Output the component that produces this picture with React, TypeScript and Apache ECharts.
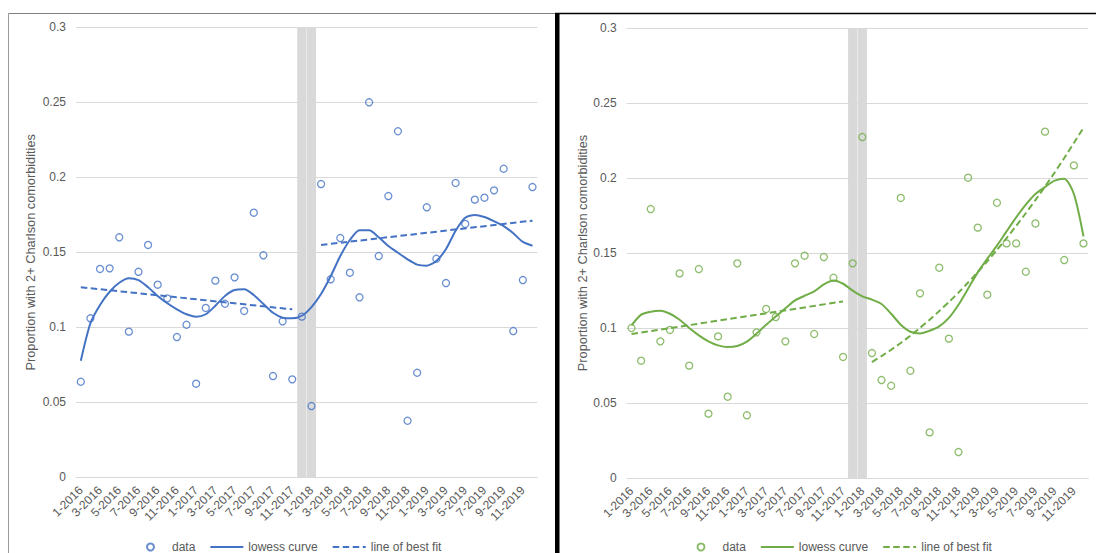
import React, { useEffect, useRef } from "react";
import * as echarts from "echarts";

const months = [
  "1-2016", "2-2016", "3-2016", "4-2016", "5-2016", "6-2016", "7-2016", "8-2016", "9-2016", "10-2016", "11-2016", "12-2016",
  "1-2017", "2-2017", "3-2017", "4-2017", "5-2017", "6-2017", "7-2017", "8-2017", "9-2017", "10-2017", "11-2017", "12-2017",
  "1-2018", "2-2018", "3-2018", "4-2018", "5-2018", "6-2018", "7-2018", "8-2018", "9-2018", "10-2018", "11-2018", "12-2018",
  "1-2019", "2-2019", "3-2019", "4-2019", "5-2019", "6-2019", "7-2019", "8-2019", "9-2019", "10-2019", "11-2019", "12-2019",
];

const yTicks = [0, 0.05, 0.1, 0.15, 0.2, 0.25, 0.3];

// Left chart (blue)
const leftData = [
  0.0637, 0.106, 0.1389, 0.1393, 0.16, 0.0971, 0.137, 0.1549, 0.1284, 0.1193, 0.0935, 0.1017,
  0.0624, 0.1129, 0.1311, 0.1157, 0.1333, 0.1109, 0.1764, 0.148, 0.0675, 0.104, 0.0653, 0.1071,
  0.0475, 0.1955, 0.132, 0.1595, 0.1364, 0.12, 0.25, 0.1475, 0.1875, 0.2307, 0.0377, 0.0697,
  0.18, 0.1457, 0.1295, 0.1962, 0.1689, 0.1851, 0.1864, 0.1913, 0.2057, 0.0975, 0.1315, 0.1935,
];
const leftLowess = [
  0.0777, 0.1027, 0.1149, 0.1237, 0.1297, 0.1327, 0.1315, 0.1267, 0.1209, 0.116, 0.112, 0.1087,
  0.1071, 0.1087, 0.1144, 0.1209, 0.1249, 0.1253, 0.1215, 0.1155, 0.1097, 0.1064, 0.106, 0.1077,
  0.1135, 0.1222, 0.134, 0.1475, 0.1582, 0.1647, 0.1647, 0.16, 0.1542, 0.1497, 0.1453, 0.1418,
  0.1411, 0.1442, 0.1522, 0.1644, 0.1731, 0.1749, 0.1735, 0.1707, 0.1675, 0.1627, 0.1569, 0.1544,
];
const leftFitPreMonths = ["1-2016", "11-2017"];
const leftFitPre = [0.1267, 0.112];
const leftFitPostMonths = ["2-2018", "12-2019"];
const leftFitPost = [0.1549, 0.1711];

// Right chart (green)
const rightData = [
  0.1, 0.0782, 0.1793, 0.0911, 0.0987, 0.1364, 0.0749, 0.1393, 0.0429, 0.0944, 0.0542, 0.1431,
  0.0418, 0.0971, 0.1127, 0.1073, 0.0911, 0.1431, 0.1482, 0.096, 0.1473, 0.1335, 0.0807, 0.1431,
  0.2273, 0.0833, 0.0653, 0.0615, 0.1867, 0.0715, 0.1231, 0.0304, 0.1402, 0.0929, 0.0173, 0.2002,
  0.1669, 0.1222, 0.1835, 0.1564, 0.1564, 0.1375, 0.1697, 0.2309, null, 0.1453, 0.2084, 0.1564,
];
const rightLowess = [
  0.1017, 0.1089, 0.1109, 0.1115, 0.1095, 0.1055, 0.1, 0.0951, 0.0911, 0.0884, 0.0873, 0.088,
  0.0909, 0.0962, 0.1022, 0.1077, 0.1131, 0.1184, 0.1215, 0.1244, 0.1291, 0.1317, 0.1295, 0.1249,
  0.1211, 0.1189, 0.116, 0.1095, 0.1022, 0.0975, 0.0964, 0.0982, 0.1011, 0.1067, 0.1155, 0.1262,
  0.1371, 0.1462, 0.1549, 0.1644, 0.1737, 0.1822, 0.1893, 0.194, 0.1982, 0.1995, 0.1893, 0.1611,
];
const rightFitPreMonths = ["1-2016", "11-2017"];
const rightFitPre = [0.096, 0.1177];
const rightFitPostMonths = [
  "2-2018", "3-2018", "4-2018", "5-2018", "6-2018", "7-2018", "8-2018", "9-2018", "10-2018", "11-2018", "12-2018",
  "1-2019", "2-2019", "3-2019", "4-2019", "5-2019", "6-2019", "7-2019", "8-2019", "9-2019", "10-2019", "11-2019", "12-2019",
];
const rightFitPost = [
  0.0773, 0.0813, 0.0855, 0.09, 0.0949, 0.1001, 0.1055, 0.1113, 0.1173, 0.1236, 0.1303,
  0.1373, 0.1445, 0.1521, 0.1599, 0.1681, 0.1765, 0.1853, 0.1943, 0.2037, 0.2133, 0.2233, 0.2335,
];

const bandMonths = ["12-2017", "1-2018"];
const bandValue = 0.3;

const FONT = "'Liberation Sans', Arial, Helvetica, sans-serif";
const TEXT = "#595959";
const GRID = "#d9d9d9";

function pairs(ms: string[], vs: (number | null)[]) {
  return ms.map((m, i) => [m, vs[i]]);
}

const hiddenSymbol = { color: "rgba(0,0,0,0)", borderColor: "rgba(0,0,0,0)", borderWidth: 0, opacity: 0 };

function buildOption(cfg: any) {
  const color = cfg.color;
  return {
    animation: false,
    textStyle: { fontFamily: FONT },
    graphic: cfg.graphic,
    grid: { left: cfg.gridLeft, top: cfg.gridTop, width: cfg.gridWidth, height: 450, containLabel: false },
    legend: {
      left: cfg.legendLeft,
      top: 536,
      itemWidth: 33,
      itemHeight: 7,
      itemGap: 14,
      textStyle: { color: TEXT, fontSize: 12, fontFamily: FONT },
      data: [
        { name: "data", icon: "circle" },
        { name: "lowess curve", itemStyle: hiddenSymbol },
        { name: "line of best fit", itemStyle: hiddenSymbol },
      ],
    },
    xAxis: {
      type: "category",
      data: months,
      boundaryGap: true,
      axisTick: { show: false },
      axisLine: { lineStyle: { color: GRID, width: 1 } },
      axisLabel: { interval: 1, rotate: 45, fontSize: 12, color: TEXT, margin: 11, fontFamily: FONT },
      splitLine: { show: false },
    },
    yAxis: {
      type: "value",
      min: yTicks[0],
      max: yTicks[yTicks.length - 1],
      interval: 0.05,
      name: "Proportion with 2+ Charlson comorbidities",
      nameLocation: "middle",
      nameGap: cfg.nameGap,
      nameMoveOverlap: false,
      nameTextStyle: { color: TEXT, fontSize: 12.75, fontFamily: FONT },
      axisLine: { show: false },
      axisTick: { show: false },
      axisLabel: { color: TEXT, fontSize: 12, margin: 10, fontFamily: FONT },
      splitLine: { lineStyle: { color: GRID, width: 1 } },
    },
    series: [
      {
        name: "band",
        type: "bar",
        data: pairs(bandMonths, bandMonths.map(() => bandValue)),
        barCategoryGap: "0%",
        barWidth: "96%",
        itemStyle: { color: "#d9d9d9" },
        silent: true,
        z: 1,
      },
      {
        name: "data",
        type: "scatter",
        data: cfg.data,
        symbol: "circle",
        symbolSize: 7,
        itemStyle: { color: "rgba(255,255,255,0)", borderColor: color, borderWidth: 1.3 },
        z: 3,
      },
      {
        name: "lowess curve",
        type: "line",
        data: cfg.lowess,
        symbol: "none",
        smooth: 0.25,
        lineStyle: { color, width: 2 },
        itemStyle: { color },
        z: 4,
      },
      {
        name: "line of best fit",
        type: "line",
        data: pairs(cfg.preMonths, cfg.pre),
        symbol: "none",
        lineStyle: { color, width: 2, type: [6.5, 3.5] },
        itemStyle: { color },
        z: 5,
      },
      {
        name: "line of best fit",
        type: "line",
        data: pairs(cfg.postMonths, cfg.post),
        symbol: "none",
        smooth: 0.2,
        lineStyle: { color, width: 2, type: [6.5, 3.5] },
        itemStyle: { color },
        z: 5,
      },
    ],
  };
}

function Chart(props: { cfg: any; style: React.CSSProperties }) {
  const ref = useRef<HTMLDivElement>(null);
  useEffect(() => {
    if (!ref.current) return;
    const chart = echarts.init(ref.current, undefined, { renderer: "svg" });
    chart.setOption(buildOption(props.cfg));
    return () => chart.dispose();
  }, []);
  return <div ref={ref} style={props.style} />;
}

const leftCfg = {
  color: "#4472C4",
  gridLeft: 76,
  gridTop: 27.3,
  gridWidth: 461.3,
  legendLeft: 141,
  nameGap: 39,
  data: leftData,
  lowess: leftLowess,
  preMonths: leftFitPreMonths,
  pre: leftFitPre,
  postMonths: leftFitPostMonths,
  post: leftFitPost,
  graphic: [
    { type: "line", shape: { x1: 8.5, y1: 13.5, x2: 555, y2: 13.5 }, style: { stroke: "#7f7f7f", lineWidth: 1 }, silent: true },
    { type: "line", shape: { x1: 8.5, y1: 13.5, x2: 8.5, y2: 553 }, style: { stroke: "#9a9a9a", lineWidth: 1 }, silent: true },
  ],
};

const rightCfg = {
  color: "#70AD47",
  gridLeft: 71.7,
  gridTop: 28,
  gridWidth: 461.6,
  legendLeft: 136.5,
  nameGap: 37.7,
  data: rightData,
  lowess: rightLowess,
  preMonths: rightFitPreMonths,
  pre: rightFitPre,
  postMonths: rightFitPostMonths,
  post: rightFitPost,
  graphic: [
    { type: "rect", shape: { x: 0, y: 13, width: 4.5, height: 540 }, style: { fill: "#000" }, silent: true },
    { type: "line", shape: { x1: 0, y1: 13.5, x2: 541, y2: 13.5 }, style: { stroke: "#000", lineWidth: 1.5 }, silent: true },
  ],
};

export default function App() {
  return (
    <div style={{ position: "absolute", left: 0, top: 0, width: 1096, height: 553, background: "#fff", overflow: "hidden" }}>
      <Chart cfg={leftCfg} style={{ position: "absolute", left: 0, top: 0, width: 555, height: 553 }} />
      <Chart cfg={rightCfg} style={{ position: "absolute", left: 555, top: 0, width: 541, height: 553 }} />
    </div>
  );
}
